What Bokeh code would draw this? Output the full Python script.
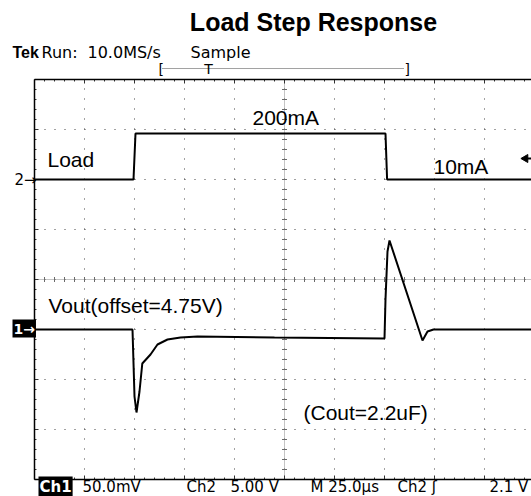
import numpy as np
from bokeh.plotting import figure
from bokeh.models import Range1d, Label
from bokeh.embed import file_html
from bokeh.resources import INLINE

# ---------------- data ----------------
# time in microseconds (25 us/div), Ch2 load current in mA, Ch1 Vout deviation in mV (50 mV/div)
load_t = [0, 49.5, 50.5, 175.5, 176.3, 248.5]
load_ma = [10, 10, 200, 200, 10, 10]

vout_t = [0, 49, 50, 51, 52.5, 53.9, 58, 61.5, 66.5, 73, 81.5, 120, 175, 175.5,
          176.5, 177.5, 194, 196.5, 199.5, 248.5]
vout_mv = [0, 0, -67, -83, -62, -34, -25, -15, -10, -8, -7, -8, -9, 30,
           78, 89, -11, -2, 0, 0]

time_per_div = 25.0      # us
ch1_per_div = 50.0       # mV
ch1_pos = -1.0           # div (marker "1->")
ch2_pos = 2.0            # div (marker "2->"), level of 10 mA
ch2_ref = 10.0           # mA
ch2_per_div = 190.0 / 0.92  # mA per div on screen
trig_level_div = 2.42    # trigger level marker (2.1 V on Ch2)

n_xdiv = 10
n_ydiv = 8
title_text = "Load Step Response"

W, H = 531, 496
LEFT, TOP, DIVPX = 34, 79, 50   # graticule placement in pixels


def px(x):
    """pixel column -> time (us)"""
    return (x - LEFT) / DIVPX * time_per_div


def py(y):
    """pixel row -> divisions"""
    return n_ydiv / 2 - (y - TOP) / DIVPX


x_lo, x_hi = px(0), px(W)
y_lo, y_hi = py(H), py(0)

p = figure(width=W, height=H,
           x_range=Range1d(x_lo, x_hi), y_range=Range1d(y_lo, y_hi),
           output_backend="svg", toolbar_location=None,
           x_axis_location=None, y_axis_location=None,
           min_border_left=0, min_border_right=0, min_border_top=0, min_border_bottom=0,
           outline_line_color=None, background_fill_color="white", border_fill_color="white")
p.grid.visible = False

p.extra_y_ranges = {
    "ch1": Range1d((y_lo - ch1_pos) * ch1_per_div, (y_hi - ch1_pos) * ch1_per_div),
    "ch2": Range1d(ch2_ref + (y_lo - ch2_pos) * ch2_per_div, ch2_ref + (y_hi - ch2_pos) * ch2_per_div),
}

# ---------------- graticule ----------------
t_max = n_xdiv * time_per_div
yb, yt = -n_ydiv / 2, n_ydiv / 2
gx = np.arange(1, n_xdiv + 1) * time_per_div
gy = np.arange(yb + 1, yt)
# dotted division lines
p.segment(x0=gx, y0=np.full(len(gx), yb), x1=gx, y1=np.full(len(gx), yt),
          line_color="#444444", line_dash="1 9", line_width=1)
p.segment(x0=np.zeros(len(gy)), y0=gy, x1=np.full(len(gy), t_max), y1=gy,
          line_color="#444444", line_dash="1 9", line_width=1)
# centre cross
cx = n_xdiv / 2 * time_per_div
p.segment(x0=[cx, 0], y0=[yb, 0], x1=[cx, t_max], y1=[yt, 0],
          line_color="#8a8a8a", line_dash="1 1", line_width=1)
minor_x = np.arange(0, t_max + 0.01, time_per_div / 5)
minor_y = np.arange(yb, yt + 0.001, 0.2)
p.scatter(np.full(len(minor_y), cx), minor_y, marker="dash", size=5,
          line_color="#6a6a6a", line_width=1)
p.scatter(minor_x, np.zeros(len(minor_x)), marker="dash", angle=np.pi / 2, size=5,
          line_color="#6a6a6a", line_width=1)
# border ticks (inside)
tick_len_y = 2 / DIVPX
tick_len_x = 2 / DIVPX * time_per_div
maj = np.isclose(np.mod(minor_x, time_per_div), 0)
lx = np.where(maj, 2, 1) * tick_len_y
p.segment(x0=minor_x, y0=np.full(len(minor_x), yt), x1=minor_x, y1=yt - lx,
          line_color="#333333", line_width=1)
p.segment(x0=minor_x, y0=np.full(len(minor_x), yb), x1=minor_x, y1=yb + lx,
          line_color="#333333", line_width=1)
majy = np.isclose(np.mod(minor_y, 1), 0) | np.isclose(np.mod(minor_y, 1), 1)
ly = np.where(majy, 2, 1) * tick_len_x
p.segment(x0=np.zeros(len(minor_y)), y0=minor_y, x1=ly, y1=minor_y,
          line_color="#333333", line_width=1)
# border lines
p.segment(x0=[0, 0, 0], y0=[yb, yt, yb], x1=[t_max, t_max, 0], y1=[yb, yt, yt],
          line_color="black", line_width=1.5)

# trigger level marker at the right edge (filled arrow head pointing left + stem)
p.scatter([px(525)], [trig_level_div], marker="triangle", angle=np.pi / 2, size=8,
          fill_color="black", line_color="black")
p.segment(x0=[px(525)], y0=[trig_level_div], x1=[px(531)], y1=[trig_level_div],
          line_color="black", line_width=2)

# ---------------- traces ----------------
p.line(load_t, load_ma, y_range_name="ch2", line_width=2, line_color="black")
p.line(vout_t, vout_mv, y_range_name="ch1", line_width=2, line_color="black")

# ---------------- texts ----------------
ARIAL = "Liberation Sans"
SCOPE = "DejaVu Sans"


def lab(x, y, text, font=ARIAL, size="21px", style="normal", align="left", baseline="middle",
        color="black", **kw):
    p.add_layout(Label(x=px(x), y=py(y), text=text, text_font=font, text_font_size=size,
                       text_font_style=style, text_align=align, text_baseline=baseline,
                       text_color=color, **kw))


lab(313, 21, title_text, size="25px", style="bold", align="center")
lab(12, 52, "Tek", size="16px", style="bold")
lab(41, 52, "Run:", font=SCOPE, size="16px")
lab(87, 52, "10.0MS/s", font=SCOPE, size="16px")
lab(190, 52, "Sample", font=SCOPE, size="16px")
lab(158, 68, "[", font=SCOPE, size="14px")
lab(404, 68, "]", font=SCOPE, size="14px")
lab(208, 68, "T", font=SCOPE, size="14px", align="center")
p.segment(x0=[px(162)], y0=[py(68)], x1=[px(404)], y1=[py(68)],
          line_color="#444444", line_dash="1 1", line_width=1)

lab(47, 159, "Load")
lab(252, 117, "200mA")
lab(433, 166, "10mA")
lab(48, 305, "Vout(offset=4.75V)")
lab(303, 412, "(Cout=2.2uF)")

lab(14, 179, "2→", font=SCOPE, size="15px")
lab(12, 328, "1→", font=SCOPE, size="14px", style="bold", color="white",
    background_fill_color="black", padding=1)

lab(38, 486, "Ch1", font=SCOPE, size="15px", style="bold", color="white",
    background_fill_color="black", padding=1)
lab(82, 486, "50.0mV", font=SCOPE, size="15px")
lab(186, 486, "Ch2", font=SCOPE, size="15px")
lab(230, 486, "5.00 V", font=SCOPE, size="15px")
lab(310, 486, "M 25.0µs", font=SCOPE, size="15px")
lab(397, 486, "Ch2 ʃ", font=SCOPE, size="15px")
lab(489, 486, "2.1 V", font=SCOPE, size="15px")

open("out.html", "w").write(file_html(p, INLINE))
